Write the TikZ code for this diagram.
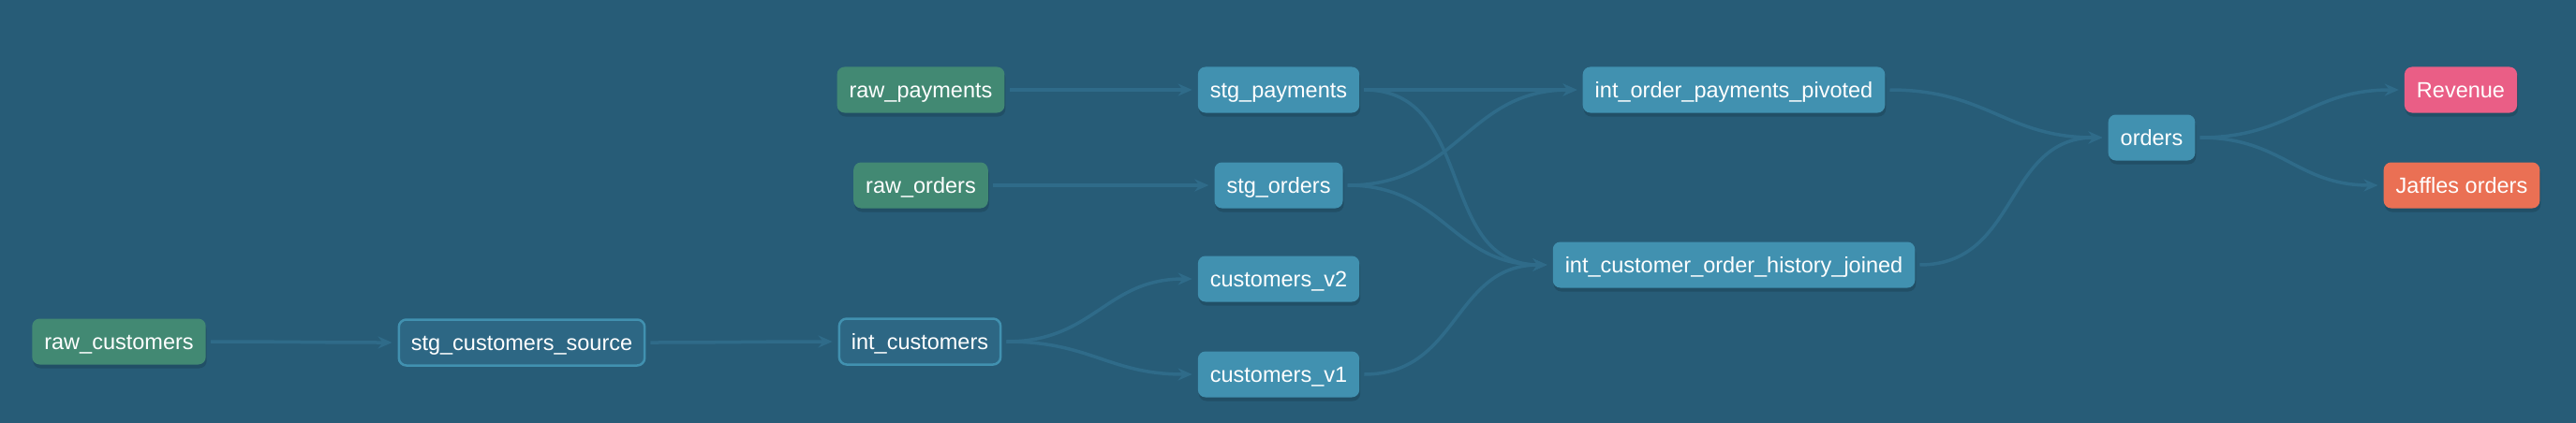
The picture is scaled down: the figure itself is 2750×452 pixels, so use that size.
\documentclass[tikz,border=0pt]{standalone}
\usepackage{fontspec}
\setmainfont{Liberation Sans}
\usetikzlibrary{arrows.meta,shadows}

\definecolor{fundo}{RGB}{39,92,119}
\definecolor{ligacao}{RGB}{47,107,137}
\definecolor{verde}{RGB}{66,137,115}
\definecolor{azul}{RGB}{65,145,176}
\definecolor{azulescuro}{RGB}{45,103,132}
\definecolor{rosa}{RGB}{234,94,134}
\definecolor{laranja}{RGB}{234,112,84}

\tikzset{
    model/.style={rounded corners=8pt, minimum height=49pt, inner xsep=13pt, inner ysep=0pt,
        text height=17pt, text depth=0pt, text=white, font=\fontsize{23.5}{28}\selectfont},
    sombra/.style={general shadow={fill=black, fill opacity=0.14, shadow xshift=1pt, shadow yshift=-4pt}},
    source/.style={model, sombra, fill=verde},
    stage/.style={model, sombra, fill=azul},
    ephemeral/.style={model, fill=azulescuro, draw=azul, line width=2.5pt},
    exposure/.style={model, sombra, fill=#1},
    lineage/.style={draw=ligacao, line width=3.5pt, -{Stealth[length=15pt,width=13pt,inset=5pt]},
        shorten <=5pt, shorten >=6pt, out=0, in=180, looseness=1.15}
}

\begin{document}
\begin{tikzpicture}[x=1pt, y=-1pt]
    % Fundo
    \fill[fundo] (0,0) rectangle (2750,452);

    % Fontes
    \node[source] (rawcust) at (127,365) {raw\_customers};
    \node[source] (rawpay) at (983,96) {raw\_payments};
    \node[source] (raworders) at (983,198) {raw\_orders};

    % Modelos
    \node[ephemeral] (stgcust) at (557,366) {stg\_customers\_source};
    \node[ephemeral] (intcust) at (982,365) {int\_customers};
    \node[stage] (stgpay) at (1365,96) {stg\_payments};
    \node[stage] (stgorders) at (1365,198) {stg\_orders};
    \node[stage] (custv2) at (1365,298) {customers\_v2};
    \node[stage] (custv1) at (1365,400) {customers\_v1};
    \node[stage] (intpay) at (1851,96) {int\_order\_payments\_pivoted};
    \node[stage] (inthist) at (1851,283) {int\_customer\_order\_history\_joined};
    \node[stage] (orders) at (2297,147) {orders};

    % Exposures
    \node[exposure=rosa] (revenue) at (2627,96) {Revenue};
    \node[exposure=laranja] (jaffles) at (2628,198) {Jaffles orders};

    % Ligacoes
    \foreach \a/\b in {rawcust/stgcust, stgcust/intcust, intcust/custv2, intcust/custv1,
        rawpay/stgpay, raworders/stgorders, stgpay/intpay, stgpay/inthist,
        stgorders/intpay, stgorders/inthist, custv1/inthist,
        intpay/orders, inthist/orders, orders/revenue, orders/jaffles}
        \draw[lineage] (\a.east) to (\b.west);
\end{tikzpicture}
\end{document}
